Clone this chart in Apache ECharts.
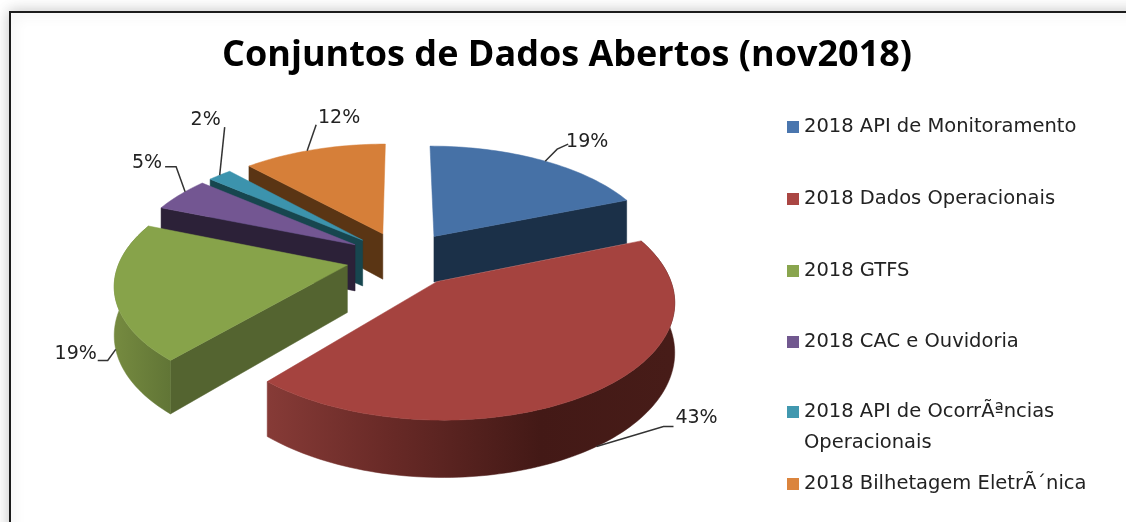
<!DOCTYPE html>
<html><head><meta charset="utf-8">
<style>html,body{margin:0;padding:0;background:#fff}#c{width:1126px;height:522px}</style>
<script src="https://cdn.jsdelivr.net/npm/echarts@6/dist/echarts.min.js"></script></head>
<body><div id="c"></div>
<script>
const titleText = 'Conjuntos de Dados Abertos (nov2018)';
const categories = ['2018 API de Monitoramento','2018 Dados Operacionais','2018 GTFS','2018 CAC e Ouvidoria','2018 API de OcorrÃªncias Operacionais','2018 Bilhetagem EletrÃ´nica'];
const values = [19,42.4,19.6,5,2,12];
const labels = ['19%','43%','19%','5%','2%','12%'];
const topColors = ['#4671A6','#A5433F','#87A34A','#735692','#3C93AD','#D67F39'];
const sideColors = ['#1B3048','#451B17','#546430','#2C2138','#17464F','#5A3514'];
const legendColors = ['#4A76AE','#AA4643','#89A54E','#71588F','#4198AF','#DB843D'];
const drawOrder = [0,5,4,3,2,1];
const legendCentres = [127,199,271,342,412,484];
// anchor on the rim as a fraction of each slice, leader elbows and label centre relative to it
const leaders = [
  {at:.52, bottom:false, pts:[[12,-12],[23,-17]], label:[42,-19]},
  {at:.50, bottom:true,  pts:[[67,-20],[77,-20]], label:[100,-28]},
  {at:.45, bottom:true,  pts:[[-8,11],[-18,11]], label:[-40,5]},
  {at:.62, bottom:false, pts:[[-9,-25],[-20,-25]], label:[-38,-29]},
  {at:.50, bottom:false, pts:[[5,-48]], label:[-14,-55]},
  {at:.45, bottom:false, pts:[[9,-26]], label:[32,-33]}
];
const total = values.reduce((a,b)=>a+b,0);
const cx=403, cy=258.5, R=227, RY=110, K=.15, EXP=.25, DEPTH=47;
const starts=[]; let acc=0; values.forEach(v=>{starts.push(acc/total*2*Math.PI); acc+=v;});
function project(u,v,d){const p=1/(1-K*v);return [cx+R*u*p, cy+RY*v*p+(d?DEPTH*p:0)];}
function geo(i){
  const a0=starts[i], a1=a0+values[i]/total*2*Math.PI, b=(a0+a1)/2;
  const ou=EXP*Math.sin(b), ov=-EXP*Math.cos(b);
  const rim=(a,d)=>project(ou+Math.sin(a),ov-Math.cos(a),d);
  const apex=d=>project(ou,ov,d);
  const n=Math.max(6,Math.round((a1-a0)*40));
  const as=[];for(let k=0;k<=n;k++)as.push(a0+(a1-a0)*k/n);
  return {a0,a1,rim,apex,as};
}
function renderSlice(params,api){
  const i=params.seriesIndex, g=geo(i), side=sideColors[i];
  const kids=[];
  const poly=(points,fill)=>kids.push({type:'polygon',shape:{points},style:{fill,stroke:fill,lineWidth:.5}});
  // only the flat walls that face the viewer are drawn
  if(-Math.sin(g.a0)>1e-6) poly([g.apex(0),g.rim(g.a0,0),g.rim(g.a0,1),g.apex(1)],side);
  if(Math.sin(g.a1)>1e-6) poly([g.apex(0),g.rim(g.a1,0),g.rim(g.a1,1),g.apex(1)],side);
  const arcTop=g.as.map(a=>g.rim(a,0)), arcBot=g.as.map(a=>g.rim(a,1)).reverse();
  let arcFill=side;
  if(i===1) arcFill=new echarts.graphic.LinearGradient(265,0,670,0,[
    {offset:0,color:'#873B37'},{offset:.3,color:'#692A27'},{offset:.68,color:'#431916'},{offset:1,color:'#471C18'}],true);
  if(i===2) arcFill=new echarts.graphic.LinearGradient(118,0,350,0,[
    {offset:0,color:'#74893F'},{offset:.25,color:'#5F7335'},{offset:1,color:'#546430'}],true);
  if(i!==0&&i!==5&&i!==4&&i!==3) poly(arcTop.concat(arcBot),arcFill);
  poly([g.apex(0)].concat(arcTop),topColors[i]);
  return {type:'group',children:kids};
}
function renderLeader(params,api){
  const i=api.value(0), g=geo(i), l=leaders[i];
  const base=g.rim(g.a0+(g.a1-g.a0)*l.at,l.bottom);
  const pts=[base].concat(l.pts.map(p=>[base[0]+p[0],base[1]+p[1]]));
  return {type:'group',children:[
    {type:'polyline',shape:{points:pts},style:{stroke:'#333',lineWidth:1.5,fill:null}},
    {type:'text',style:{text:labels[i],x:base[0]+l.label[0],y:base[1]+l.label[1],align:'center',verticalAlign:'middle',
      fontFamily:'"DejaVu Sans"',fontSize:19,fill:'#222'}}
  ]};
}
const series=categories.map((name,i)=>({
  name,type:'custom',coordinateSystem:'none',renderItem:renderSlice,silent:true,
  z:10+drawOrder.indexOf(i),itemStyle:{color:legendColors[i]},data:[[values[i]]],animation:false
}));
series.push({type:'custom',coordinateSystem:'none',renderItem:renderLeader,silent:true,z:30,
  data:categories.map((n,i)=>[i]),animation:false});
const chart=echarts.init(document.getElementById('c'),null,{renderer:'canvas'});
chart.setOption({
  animation:false,backgroundColor:'#fff',
  title:{text:titleText,left:222,top:38,padding:0,textStyle:{fontFamily:'"Open Sans"',fontWeight:'bold',fontSize:36,color:'#000'}},
  tooltip:{show:false},
  graphic:[{type:'rect',z:-10,shape:{x:10,y:12,width:1300,height:700},
    style:{fill:'#fff',stroke:'#1c1c1c',lineWidth:2,shadowBlur:14,shadowColor:'rgba(0,0,0,.22)'},silent:true}],
  legend:categories.map((name,i)=>({
    data:[name],left:787,top:(i===4?legendCentres[i]-46.5:legendCentres[i]-15.5),padding:0,
    itemWidth:12,itemHeight:12,icon:'rect',itemGap:0,selectedMode:false,
    formatter:n=>n.includes('Operacionais')&&n.includes('API')?'\n2018 API de OcorrÃªncias\nOperacionais':n,
    textStyle:{fontFamily:'"DejaVu Sans"',fontSize:19.5,lineHeight:31,color:'#222'}
  })),
  series
});
</script></body></html>
